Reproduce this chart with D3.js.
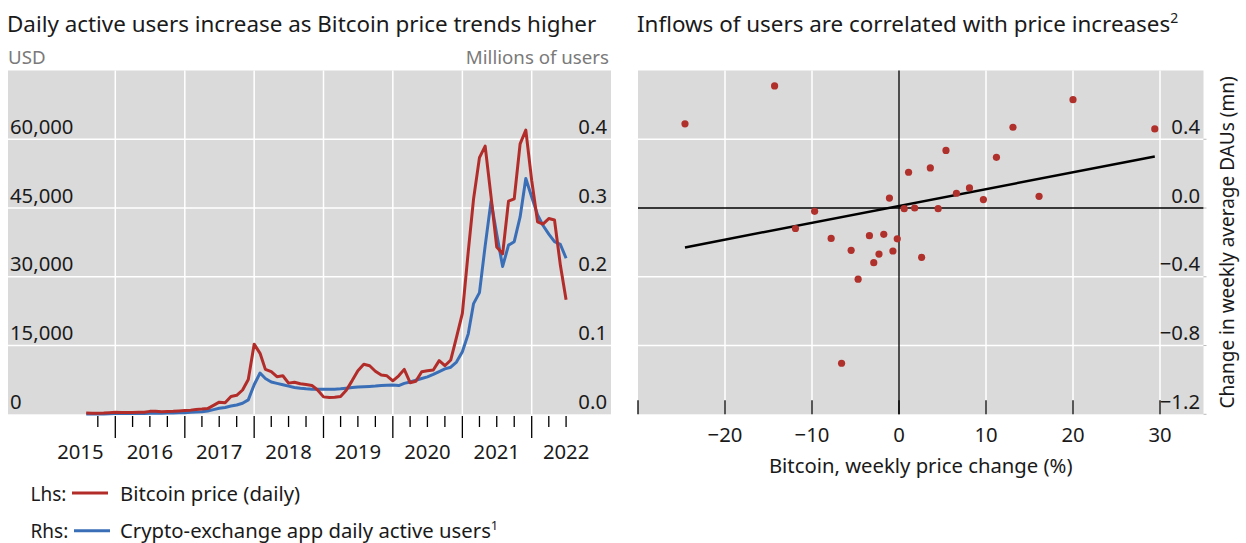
<!DOCTYPE html>
<html><head><meta charset="utf-8">
<script src="https://cdn.jsdelivr.net/npm/d3@7"></script>
<style>
body{margin:0;background:#fff;}
svg{display:block;font-family:"Noto Sans",sans-serif;}
</style>
</head><body>
<svg id="chart" width="1246" height="543"></svg>
<script>
// ---------- DATA ----------
// Monthly averages, Jul 2015 – Jun 2022 (each plotted at the month's end)
const firstMonth = "2015-07";
const lastMonth = "2022-06";
const btcPrice = [
  280, 250, 235, 265, 350, 425,
  410, 405, 415, 435, 460, 640, 665, 575, 605, 640, 730, 820,
  910, 1060, 1140, 1250, 1950, 2650, 2500, 3900, 4150, 5300, 7600, 15300,
  13300, 9800, 9300, 8200, 8400, 6800, 7000, 6650, 6500, 6300, 5300, 3800,
  3650, 3700, 3900, 5250, 7350, 9500, 10900, 10600, 9400, 8550, 8400, 7300,
  8400, 9800, 6900, 7200, 9300, 9500, 9650, 11700, 10600, 11850, 16800, 22000,
  35500, 47000, 56000, 58500, 47500, 36500, 35000, 46500, 47000, 59000, 62000, 51000,
  42000, 41500, 42700, 42400, 32500, 25000
];
const dailyActiveUsers = [
  0.0005, 0.0005, 0.0006, 0.0006, 0.0008, 0.0010,
  0.0010, 0.0010, 0.0011, 0.0012, 0.0013, 0.0016, 0.0017, 0.0017, 0.0018, 0.0019, 0.0021, 0.0024,
  0.0028, 0.0032, 0.0036, 0.0048, 0.0068, 0.0087, 0.0100, 0.0120, 0.0135, 0.0160, 0.0210, 0.0430,
  0.0600, 0.0520, 0.0470, 0.0450, 0.0430, 0.0410, 0.0390, 0.0378, 0.0370, 0.0366, 0.0364, 0.0364,
  0.0364, 0.0366, 0.0370, 0.0380, 0.0390, 0.0398, 0.0402, 0.0406, 0.0410, 0.0418, 0.0424, 0.0426,
  0.0418, 0.0450, 0.0470, 0.0495, 0.0520, 0.0545, 0.0580, 0.0620, 0.0660, 0.0685, 0.0760, 0.0910,
  0.1170, 0.1610, 0.1770, 0.2450, 0.3100, 0.2620, 0.2150, 0.2460, 0.2510, 0.2870, 0.3430, 0.3160,
  0.2900, 0.2750, 0.2620, 0.2510, 0.2470, 0.2270
];
const yearLabels = ["2015","2016","2017","2018","2019","2020","2021","2022"];
const lhsTicks = [0, 15000, 30000, 45000, 60000];
const rhsTicks = [0.0, 0.1, 0.2, 0.3, 0.4];

// Scatter: weekly BTC price change (%) vs change in weekly average DAUs (mn)
const priceChange = [-24.6, -14.3, 20.0, 13.1, 29.4, 5.4, 11.2, 3.6, 1.1, 8.1,
  6.6, -1.1, 9.7, 16.1, -9.7, 0.6, 1.8, 4.5, -11.9, -7.8,
  -3.4, -1.75, -0.2, -5.5, -2.3, -0.7, -2.9, 2.6, -4.7, -6.6];
const dauChange = [0.49, 0.71, 0.63, 0.47, 0.46, 0.335, 0.295, 0.233, 0.208, 0.117,
  0.086, 0.058, 0.049, 0.068, -0.019, -0.004, 0.0, -0.004, -0.119, -0.177,
  -0.161, -0.153, -0.179, -0.246, -0.268, -0.25, -0.318, -0.287, -0.414, -0.903];
const fitCoef = [0.012, 0.0098]; // intercept, slope of linear fit
const scatterXTicks = [-30, -20, -10, 0, 10, 20, 30];
const scatterYTicks = [0.4, 0.0, -0.4, -0.8, -1.2];

// ---------- STYLE ----------
const RED = "#b22d2a", BLUE = "#3a6fb8", BG = "#dadada", GRID = "#ffffff";
const TXT = "#1a1a1a", SUB = "#7a7a7a";
const FS = 20.3, FT = 22.4;

const svg = d3.select("#chart");
const parseM = d3.timeParse("%Y-%m");
const months = d3.timeMonth.range(parseM(firstMonth), d3.timeMonth.offset(parseM(lastMonth), 1));
const series = months.map((m, i) => ({date: d3.timeMonth.offset(m, 1), btc: btcPrice[i], dau: dailyActiveUsers[i]}));

// ---------- LEFT PANEL ----------
const L = {x0: 8, x1: 611, y0: 70.5, y1: 414.3};
const x = d3.scaleTime().domain([new Date(2016,0,1), new Date(2022,0,1)]).range([115.3, 531.7]);
const yL = d3.scaleLinear().domain([0, 75000]).range([L.y1, L.y0]);
const yR = d3.scaleLinear().domain([0, 0.5]).range([L.y1, L.y0]);

svg.append("text").attr("x", 7).attr("y", 32).attr("fill", TXT).attr("font-size", FT)
  .text("Daily active users increase as Bitcoin price trends higher");
svg.append("text").attr("x", 8).attr("y", 64).attr("fill", SUB).attr("font-size", 18.7).text("USD");
svg.append("text").attr("x", 609).attr("y", 64).attr("fill", SUB).attr("font-size", 18.7)
  .attr("text-anchor", "end").text("Millions of users");

const gL = svg.append("g");
gL.append("rect").attr("x", L.x0).attr("y", L.y0).attr("width", L.x1 - L.x0).attr("height", L.y1 - L.y0).attr("fill", BG);
gL.selectAll(".hg").data(lhsTicks.filter(d => d > 0)).join("line")
  .attr("x1", L.x0).attr("x2", L.x1).attr("y1", d => yL(d)).attr("y2", d => yL(d))
  .attr("stroke", GRID).attr("stroke-width", 1.5);
const yearStarts = d3.timeYear.range(new Date(2016,0,1), new Date(2022,0,2));
gL.selectAll(".vg").data(yearStarts).join("line")
  .attr("x1", d => x(d)).attr("x2", d => x(d)).attr("y1", L.y0).attr("y2", L.y1)
  .attr("stroke", GRID).attr("stroke-width", 1.5);
gL.selectAll(".ll").data(lhsTicks).join("text")
  .attr("x", 10).attr("y", d => yL(d) - 5.5).attr("font-size", FS).attr("fill", TXT)
  .text(d => d3.format(",")(d));
gL.selectAll(".rl").data(rhsTicks).join("text")
  .attr("x", 607).attr("y", d => yR(d) - 5.5).attr("font-size", FS).attr("fill", TXT)
  .attr("text-anchor", "end").text(d => d3.format(".1f")(d));
const qTicks = d3.timeMonth.every(3).range(new Date(2015,9,1), new Date(2022,7,1));
gL.selectAll(".tk").data(qTicks).join("line")
  .attr("x1", d => x(d)).attr("x2", d => x(d))
  .attr("y1", 416).attr("y2", d => d.getMonth() === 0 ? 438 : 427)
  .attr("stroke", "#000").attr("stroke-width", 1.3);
gL.selectAll(".yl").data(yearLabels).join("text")
  .attr("x", d => x(new Date(+d, 6, 1))).attr("y", 459).attr("text-anchor", "middle")
  .attr("font-size", FS).attr("fill", TXT).text(d => d);
gL.append("path").datum(series)
  .attr("d", d3.line().x(d => x(d.date)).y(d => yR(d.dau)))
  .attr("fill", "none").attr("stroke", BLUE).attr("stroke-width", 3).attr("stroke-linejoin", "round");
gL.append("path").datum(series)
  .attr("d", d3.line().x(d => x(d.date)).y(d => yL(d.btc)))
  .attr("fill", "none").attr("stroke", RED).attr("stroke-width", 3).attr("stroke-linejoin", "round");

// legend
const legend = [
  {side: "Lhs:", label: "Bitcoin price (daily)", sup: "", color: RED, y: 500.5, lx: 72},
  {side: "Rhs:", label: "Crypto-exchange app daily active users", sup: "1", color: BLUE, y: 538.3, lx: 74}
];
const lg = svg.selectAll(".lg").data(legend).join("g");
lg.append("text").attr("x", 30.5).attr("y", d => d.y).attr("font-size", 19).attr("fill", TXT).text(d => d.side);
lg.append("line").attr("x1", d => d.lx).attr("x2", d => d.lx + 36).attr("y1", d => d.y - 7.5).attr("y2", d => d.y - 7.5)
  .attr("stroke", d => d.color).attr("stroke-width", 3);
const lt = lg.append("text").attr("x", 120).attr("y", d => d.y).attr("font-size", FS).attr("fill", TXT);
lt.append("tspan").text(d => d.label);
lt.append("tspan").attr("dy", -8).attr("font-size", 13).text(d => d.sup);

// ---------- RIGHT PANEL ----------
const R = {x0: 638, x1: 1203.5, y0: 70.5, y1: 414.3};
const sx = d3.scaleLinear().domain([-30, 35]).range([R.x0, R.x1]);
const sy = d3.scaleLinear().domain([-1.2, 0.8]).range([R.y1, R.y0]);

const tt = svg.append("text").attr("x", 637).attr("y", 32).attr("fill", TXT).attr("font-size", FT);
tt.append("tspan").text("Inflows of users are correlated with price increases");
tt.append("tspan").attr("dy", -9).attr("font-size", 14).text("2");

const gR = svg.append("g");
gR.append("rect").attr("x", R.x0).attr("y", R.y0).attr("width", R.x1 - R.x0).attr("height", R.y1 - R.y0).attr("fill", BG);
gR.selectAll(".vg").data(scatterXTicks.filter(d => d !== 0 && d !== -30)).join("line")
  .attr("x1", d => sx(d)).attr("x2", d => sx(d)).attr("y1", R.y0).attr("y2", R.y1)
  .attr("stroke", GRID).attr("stroke-width", 1.5);
gR.selectAll(".hg").data(scatterYTicks.filter(d => d !== 0 && d !== -1.2)).join("line")
  .attr("x1", R.x0).attr("x2", R.x1).attr("y1", d => sy(d)).attr("y2", d => sy(d))
  .attr("stroke", GRID).attr("stroke-width", 1.5);
gR.append("line").attr("x1", sx(0)).attr("x2", sx(0)).attr("y1", R.y0).attr("y2", R.y1)
  .attr("stroke", "#000").attr("stroke-width", 1.3);
gR.append("line").attr("x1", R.x0).attr("x2", R.x1).attr("y1", sy(0)).attr("y2", sy(0))
  .attr("stroke", "#000").attr("stroke-width", 1.3);
gR.selectAll(".tk").data(scatterXTicks).join("line")
  .attr("x1", d => sx(d)).attr("x2", d => sx(d)).attr("y1", R.y1).attr("y2", R.y1 - 14)
  .attr("stroke", "#000").attr("stroke-width", 1.3);
gR.selectAll(".rt").data(scatterYTicks).join("line")
  .attr("x1", R.x1).attr("x2", R.x1 + 3).attr("y1", d => sy(d)).attr("y2", d => sy(d))
  .attr("stroke", "#bbb").attr("stroke-width", 1);
const minus = s => s.replace("-", "\u2212");
gR.selectAll(".xl").data(scatterXTicks.filter(d => d !== -30)).join("text")
  .attr("x", d => sx(d)).attr("y", 442).attr("text-anchor", "middle")
  .attr("font-size", FS).attr("fill", TXT).text(d => minus(String(d)));
gR.selectAll(".yl").data(scatterYTicks).join("text")
  .attr("x", 1200).attr("y", d => sy(d) - 5.5).attr("text-anchor", "end")
  .attr("font-size", FS).attr("fill", TXT).text(d => minus(d3.format(".1f")(d)));
svg.append("text").attr("x", (R.x0 + R.x1) / 2).attr("y", 473).attr("text-anchor", "middle")
  .attr("font-size", FS).attr("fill", TXT).text("Bitcoin, weekly price change (%)");
svg.append("text").attr("transform", `translate(1227,${(R.y0 + R.y1) / 2}) rotate(-90)`)
  .attr("text-anchor", "middle").attr("dominant-baseline", "central")
  .attr("font-size", 19).attr("fill", TXT).text("Change in weekly average DAUs (mn)");
const xExt = d3.extent(priceChange);
gR.append("line")
  .attr("x1", sx(xExt[0])).attr("y1", sy(fitCoef[0] + fitCoef[1] * xExt[0]))
  .attr("x2", sx(xExt[1])).attr("y2", sy(fitCoef[0] + fitCoef[1] * xExt[1]))
  .attr("stroke", "#000").attr("stroke-width", 2.5);
gR.selectAll(".dot").data(priceChange.map((v, i) => [v, dauChange[i]])).join("circle")
  .attr("cx", d => sx(d[0])).attr("cy", d => sy(d[1])).attr("r", 3.6).attr("fill", "#b0302c");
</script>
</body></html>
